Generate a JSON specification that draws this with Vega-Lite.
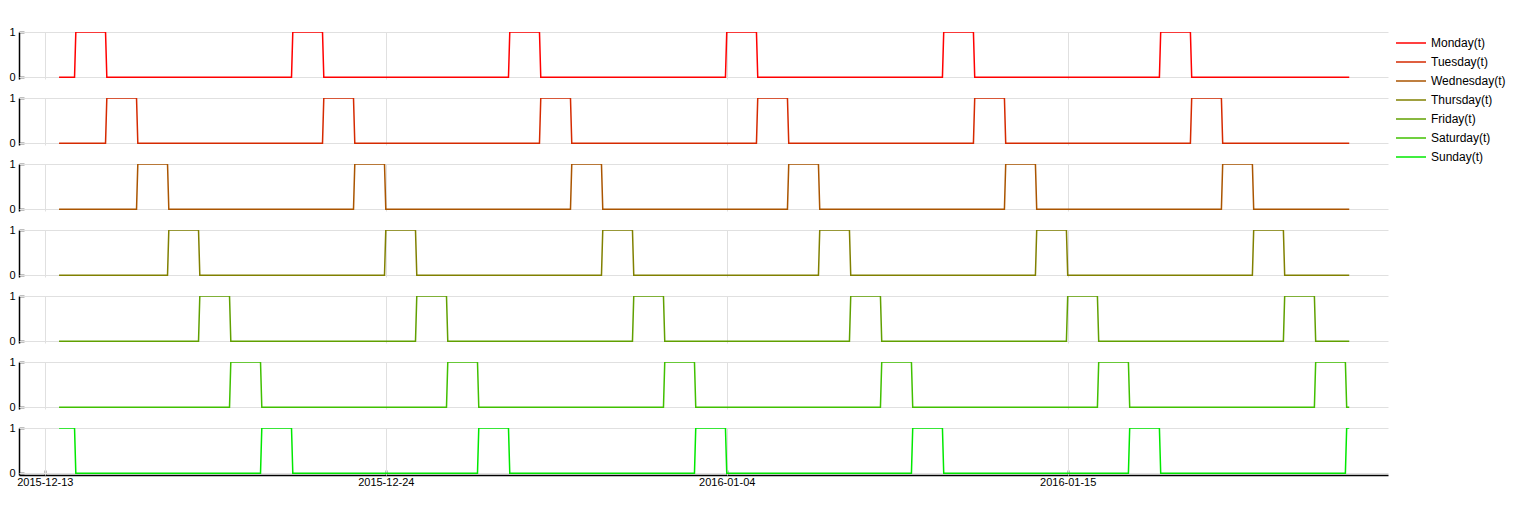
{
  "$schema": "https://vega.github.io/schema/vega-lite/v6.json",
  "padding": {"left": 8, "top": 26, "right": 0, "bottom": 0},
  "autosize": {"type": "pad"},
  "bounds": "flush",
  "spacing": {"row": 19},
  "data": {"values": [
    {"t":"2015-12-13T11:00","Mo":0,"Tu":0,"We":0,"Th":0,"Fr":0,"Sa":0,"Su":1},
    {"t":"2015-12-13T23:00","Mo":0,"Tu":0,"We":0,"Th":0,"Fr":0,"Sa":0,"Su":1},
    {"t":"2015-12-14T00:00","Mo":1,"Tu":0,"We":0,"Th":0,"Fr":0,"Sa":0,"Su":0},
    {"t":"2015-12-14T23:00","Mo":1,"Tu":0,"We":0,"Th":0,"Fr":0,"Sa":0,"Su":0},
    {"t":"2015-12-15T00:00","Mo":0,"Tu":1,"We":0,"Th":0,"Fr":0,"Sa":0,"Su":0},
    {"t":"2015-12-15T23:00","Mo":0,"Tu":1,"We":0,"Th":0,"Fr":0,"Sa":0,"Su":0},
    {"t":"2015-12-16T00:00","Mo":0,"Tu":0,"We":1,"Th":0,"Fr":0,"Sa":0,"Su":0},
    {"t":"2015-12-16T23:00","Mo":0,"Tu":0,"We":1,"Th":0,"Fr":0,"Sa":0,"Su":0},
    {"t":"2015-12-17T00:00","Mo":0,"Tu":0,"We":0,"Th":1,"Fr":0,"Sa":0,"Su":0},
    {"t":"2015-12-17T23:00","Mo":0,"Tu":0,"We":0,"Th":1,"Fr":0,"Sa":0,"Su":0},
    {"t":"2015-12-18T00:00","Mo":0,"Tu":0,"We":0,"Th":0,"Fr":1,"Sa":0,"Su":0},
    {"t":"2015-12-18T23:00","Mo":0,"Tu":0,"We":0,"Th":0,"Fr":1,"Sa":0,"Su":0},
    {"t":"2015-12-19T00:00","Mo":0,"Tu":0,"We":0,"Th":0,"Fr":0,"Sa":1,"Su":0},
    {"t":"2015-12-19T23:00","Mo":0,"Tu":0,"We":0,"Th":0,"Fr":0,"Sa":1,"Su":0},
    {"t":"2015-12-20T00:00","Mo":0,"Tu":0,"We":0,"Th":0,"Fr":0,"Sa":0,"Su":1},
    {"t":"2015-12-20T23:00","Mo":0,"Tu":0,"We":0,"Th":0,"Fr":0,"Sa":0,"Su":1},
    {"t":"2015-12-21T00:00","Mo":1,"Tu":0,"We":0,"Th":0,"Fr":0,"Sa":0,"Su":0},
    {"t":"2015-12-21T23:00","Mo":1,"Tu":0,"We":0,"Th":0,"Fr":0,"Sa":0,"Su":0},
    {"t":"2015-12-22T00:00","Mo":0,"Tu":1,"We":0,"Th":0,"Fr":0,"Sa":0,"Su":0},
    {"t":"2015-12-22T23:00","Mo":0,"Tu":1,"We":0,"Th":0,"Fr":0,"Sa":0,"Su":0},
    {"t":"2015-12-23T00:00","Mo":0,"Tu":0,"We":1,"Th":0,"Fr":0,"Sa":0,"Su":0},
    {"t":"2015-12-23T23:00","Mo":0,"Tu":0,"We":1,"Th":0,"Fr":0,"Sa":0,"Su":0},
    {"t":"2015-12-24T00:00","Mo":0,"Tu":0,"We":0,"Th":1,"Fr":0,"Sa":0,"Su":0},
    {"t":"2015-12-24T23:00","Mo":0,"Tu":0,"We":0,"Th":1,"Fr":0,"Sa":0,"Su":0},
    {"t":"2015-12-25T00:00","Mo":0,"Tu":0,"We":0,"Th":0,"Fr":1,"Sa":0,"Su":0},
    {"t":"2015-12-25T23:00","Mo":0,"Tu":0,"We":0,"Th":0,"Fr":1,"Sa":0,"Su":0},
    {"t":"2015-12-26T00:00","Mo":0,"Tu":0,"We":0,"Th":0,"Fr":0,"Sa":1,"Su":0},
    {"t":"2015-12-26T23:00","Mo":0,"Tu":0,"We":0,"Th":0,"Fr":0,"Sa":1,"Su":0},
    {"t":"2015-12-27T00:00","Mo":0,"Tu":0,"We":0,"Th":0,"Fr":0,"Sa":0,"Su":1},
    {"t":"2015-12-27T23:00","Mo":0,"Tu":0,"We":0,"Th":0,"Fr":0,"Sa":0,"Su":1},
    {"t":"2015-12-28T00:00","Mo":1,"Tu":0,"We":0,"Th":0,"Fr":0,"Sa":0,"Su":0},
    {"t":"2015-12-28T23:00","Mo":1,"Tu":0,"We":0,"Th":0,"Fr":0,"Sa":0,"Su":0},
    {"t":"2015-12-29T00:00","Mo":0,"Tu":1,"We":0,"Th":0,"Fr":0,"Sa":0,"Su":0},
    {"t":"2015-12-29T23:00","Mo":0,"Tu":1,"We":0,"Th":0,"Fr":0,"Sa":0,"Su":0},
    {"t":"2015-12-30T00:00","Mo":0,"Tu":0,"We":1,"Th":0,"Fr":0,"Sa":0,"Su":0},
    {"t":"2015-12-30T23:00","Mo":0,"Tu":0,"We":1,"Th":0,"Fr":0,"Sa":0,"Su":0},
    {"t":"2015-12-31T00:00","Mo":0,"Tu":0,"We":0,"Th":1,"Fr":0,"Sa":0,"Su":0},
    {"t":"2015-12-31T23:00","Mo":0,"Tu":0,"We":0,"Th":1,"Fr":0,"Sa":0,"Su":0},
    {"t":"2016-01-01T00:00","Mo":0,"Tu":0,"We":0,"Th":0,"Fr":1,"Sa":0,"Su":0},
    {"t":"2016-01-01T23:00","Mo":0,"Tu":0,"We":0,"Th":0,"Fr":1,"Sa":0,"Su":0},
    {"t":"2016-01-02T00:00","Mo":0,"Tu":0,"We":0,"Th":0,"Fr":0,"Sa":1,"Su":0},
    {"t":"2016-01-02T23:00","Mo":0,"Tu":0,"We":0,"Th":0,"Fr":0,"Sa":1,"Su":0},
    {"t":"2016-01-03T00:00","Mo":0,"Tu":0,"We":0,"Th":0,"Fr":0,"Sa":0,"Su":1},
    {"t":"2016-01-03T23:00","Mo":0,"Tu":0,"We":0,"Th":0,"Fr":0,"Sa":0,"Su":1},
    {"t":"2016-01-04T00:00","Mo":1,"Tu":0,"We":0,"Th":0,"Fr":0,"Sa":0,"Su":0},
    {"t":"2016-01-04T23:00","Mo":1,"Tu":0,"We":0,"Th":0,"Fr":0,"Sa":0,"Su":0},
    {"t":"2016-01-05T00:00","Mo":0,"Tu":1,"We":0,"Th":0,"Fr":0,"Sa":0,"Su":0},
    {"t":"2016-01-05T23:00","Mo":0,"Tu":1,"We":0,"Th":0,"Fr":0,"Sa":0,"Su":0},
    {"t":"2016-01-06T00:00","Mo":0,"Tu":0,"We":1,"Th":0,"Fr":0,"Sa":0,"Su":0},
    {"t":"2016-01-06T23:00","Mo":0,"Tu":0,"We":1,"Th":0,"Fr":0,"Sa":0,"Su":0},
    {"t":"2016-01-07T00:00","Mo":0,"Tu":0,"We":0,"Th":1,"Fr":0,"Sa":0,"Su":0},
    {"t":"2016-01-07T23:00","Mo":0,"Tu":0,"We":0,"Th":1,"Fr":0,"Sa":0,"Su":0},
    {"t":"2016-01-08T00:00","Mo":0,"Tu":0,"We":0,"Th":0,"Fr":1,"Sa":0,"Su":0},
    {"t":"2016-01-08T23:00","Mo":0,"Tu":0,"We":0,"Th":0,"Fr":1,"Sa":0,"Su":0},
    {"t":"2016-01-09T00:00","Mo":0,"Tu":0,"We":0,"Th":0,"Fr":0,"Sa":1,"Su":0},
    {"t":"2016-01-09T23:00","Mo":0,"Tu":0,"We":0,"Th":0,"Fr":0,"Sa":1,"Su":0},
    {"t":"2016-01-10T00:00","Mo":0,"Tu":0,"We":0,"Th":0,"Fr":0,"Sa":0,"Su":1},
    {"t":"2016-01-10T23:00","Mo":0,"Tu":0,"We":0,"Th":0,"Fr":0,"Sa":0,"Su":1},
    {"t":"2016-01-11T00:00","Mo":1,"Tu":0,"We":0,"Th":0,"Fr":0,"Sa":0,"Su":0},
    {"t":"2016-01-11T23:00","Mo":1,"Tu":0,"We":0,"Th":0,"Fr":0,"Sa":0,"Su":0},
    {"t":"2016-01-12T00:00","Mo":0,"Tu":1,"We":0,"Th":0,"Fr":0,"Sa":0,"Su":0},
    {"t":"2016-01-12T23:00","Mo":0,"Tu":1,"We":0,"Th":0,"Fr":0,"Sa":0,"Su":0},
    {"t":"2016-01-13T00:00","Mo":0,"Tu":0,"We":1,"Th":0,"Fr":0,"Sa":0,"Su":0},
    {"t":"2016-01-13T23:00","Mo":0,"Tu":0,"We":1,"Th":0,"Fr":0,"Sa":0,"Su":0},
    {"t":"2016-01-14T00:00","Mo":0,"Tu":0,"We":0,"Th":1,"Fr":0,"Sa":0,"Su":0},
    {"t":"2016-01-14T23:00","Mo":0,"Tu":0,"We":0,"Th":1,"Fr":0,"Sa":0,"Su":0},
    {"t":"2016-01-15T00:00","Mo":0,"Tu":0,"We":0,"Th":0,"Fr":1,"Sa":0,"Su":0},
    {"t":"2016-01-15T23:00","Mo":0,"Tu":0,"We":0,"Th":0,"Fr":1,"Sa":0,"Su":0},
    {"t":"2016-01-16T00:00","Mo":0,"Tu":0,"We":0,"Th":0,"Fr":0,"Sa":1,"Su":0},
    {"t":"2016-01-16T23:00","Mo":0,"Tu":0,"We":0,"Th":0,"Fr":0,"Sa":1,"Su":0},
    {"t":"2016-01-17T00:00","Mo":0,"Tu":0,"We":0,"Th":0,"Fr":0,"Sa":0,"Su":1},
    {"t":"2016-01-17T23:00","Mo":0,"Tu":0,"We":0,"Th":0,"Fr":0,"Sa":0,"Su":1},
    {"t":"2016-01-18T00:00","Mo":1,"Tu":0,"We":0,"Th":0,"Fr":0,"Sa":0,"Su":0},
    {"t":"2016-01-18T23:00","Mo":1,"Tu":0,"We":0,"Th":0,"Fr":0,"Sa":0,"Su":0},
    {"t":"2016-01-19T00:00","Mo":0,"Tu":1,"We":0,"Th":0,"Fr":0,"Sa":0,"Su":0},
    {"t":"2016-01-19T23:00","Mo":0,"Tu":1,"We":0,"Th":0,"Fr":0,"Sa":0,"Su":0},
    {"t":"2016-01-20T00:00","Mo":0,"Tu":0,"We":1,"Th":0,"Fr":0,"Sa":0,"Su":0},
    {"t":"2016-01-20T23:00","Mo":0,"Tu":0,"We":1,"Th":0,"Fr":0,"Sa":0,"Su":0},
    {"t":"2016-01-21T00:00","Mo":0,"Tu":0,"We":0,"Th":1,"Fr":0,"Sa":0,"Su":0},
    {"t":"2016-01-21T23:00","Mo":0,"Tu":0,"We":0,"Th":1,"Fr":0,"Sa":0,"Su":0},
    {"t":"2016-01-22T00:00","Mo":0,"Tu":0,"We":0,"Th":0,"Fr":1,"Sa":0,"Su":0},
    {"t":"2016-01-22T23:00","Mo":0,"Tu":0,"We":0,"Th":0,"Fr":1,"Sa":0,"Su":0},
    {"t":"2016-01-23T00:00","Mo":0,"Tu":0,"We":0,"Th":0,"Fr":0,"Sa":1,"Su":0},
    {"t":"2016-01-23T23:00","Mo":0,"Tu":0,"We":0,"Th":0,"Fr":0,"Sa":1,"Su":0},
    {"t":"2016-01-24T00:00","Mo":0,"Tu":0,"We":0,"Th":0,"Fr":0,"Sa":0,"Su":1},
    {"t":"2016-01-24T02:00","Mo":0,"Tu":0,"We":0,"Th":0,"Fr":0,"Sa":0,"Su":1}
  ]},
  "transform": [{"fold": ["Mo","Tu","We","Th","Fr","Sa","Su"], "as": ["k","v"]}],
  "facet": {"row": {"field": "k", "type": "nominal", "sort": ["Mo","Tu","We","Th","Fr","Sa","Su"], "header": {"labels": false, "title": null, "labelPadding": 0, "titlePadding": 0}}},
  "spec": {
    "width": 1369,
    "height": 47,
    "mark": {"type": "line", "strokeWidth": 1.5, "clip": true},
    "encoding": {
      "x": {"field": "t", "type": "temporal",
        "scale": {"domain": [{"year":2015,"month":12,"date":12,"hours":4},{"year":2016,"month":1,"date":25,"hours":8}], "nice": false},
        "axis": {"title": null, "values": [{"year":2015,"month":12,"date":13},{"year":2015,"month":12,"date":24},{"year":2016,"month":1,"date":4},{"year":2016,"month":1,"date":15}], "format": "%Y-%m-%d", "labelAngle": 0, "labelFlush": false, "labelPadding": 6}},
      "y": {"field": "v", "type": "quantitative",
        "scale": {"domain": [-0.04, 1], "nice": false, "zero": false},
        "axis": {"title": null, "values": [0, 1], "format": "d", "labelPadding": 9}},
      "color": {"field": "k", "type": "nominal",
        "scale": {"domain": ["Mo","Tu","We","Th","Fr","Sa","Su"], "range": ["#ff0000","#d52a00","#aa5500","#808000","#60a000","#40c000","#00e800"]},
        "legend": {"title": null, "labelExpr": "{'Mo':'Monday(t)','Tu':'Tuesday(t)','We':'Wednesday(t)','Th':'Thursday(t)','Fr':'Friday(t)','Sa':'Saturday(t)','Su':'Sunday(t)'}[datum.label]"}}
    }
  },
  "config": {
    "font": "Liberation Sans",
    "view": {"stroke": null},
    "axis": {"domainColor": "#000000", "domainWidth": 1.5, "tickColor": "#000000", "tickSize": -5, "tickWidth": 1.5, "labelColor": "#000000", "labelFontSize": 11, "gridColor": "#e0e0e0", "gridWidth": 1},
    "legend": {"orient": "right", "offset": 12, "padding": 5, "symbolType": "M-3,0H3", "symbolSize": 100, "symbolStrokeWidth": 1.5, "labelFontSize": 12, "labelColor": "#000000", "labelOffset": 14, "rowPadding": 7}
  }
}
